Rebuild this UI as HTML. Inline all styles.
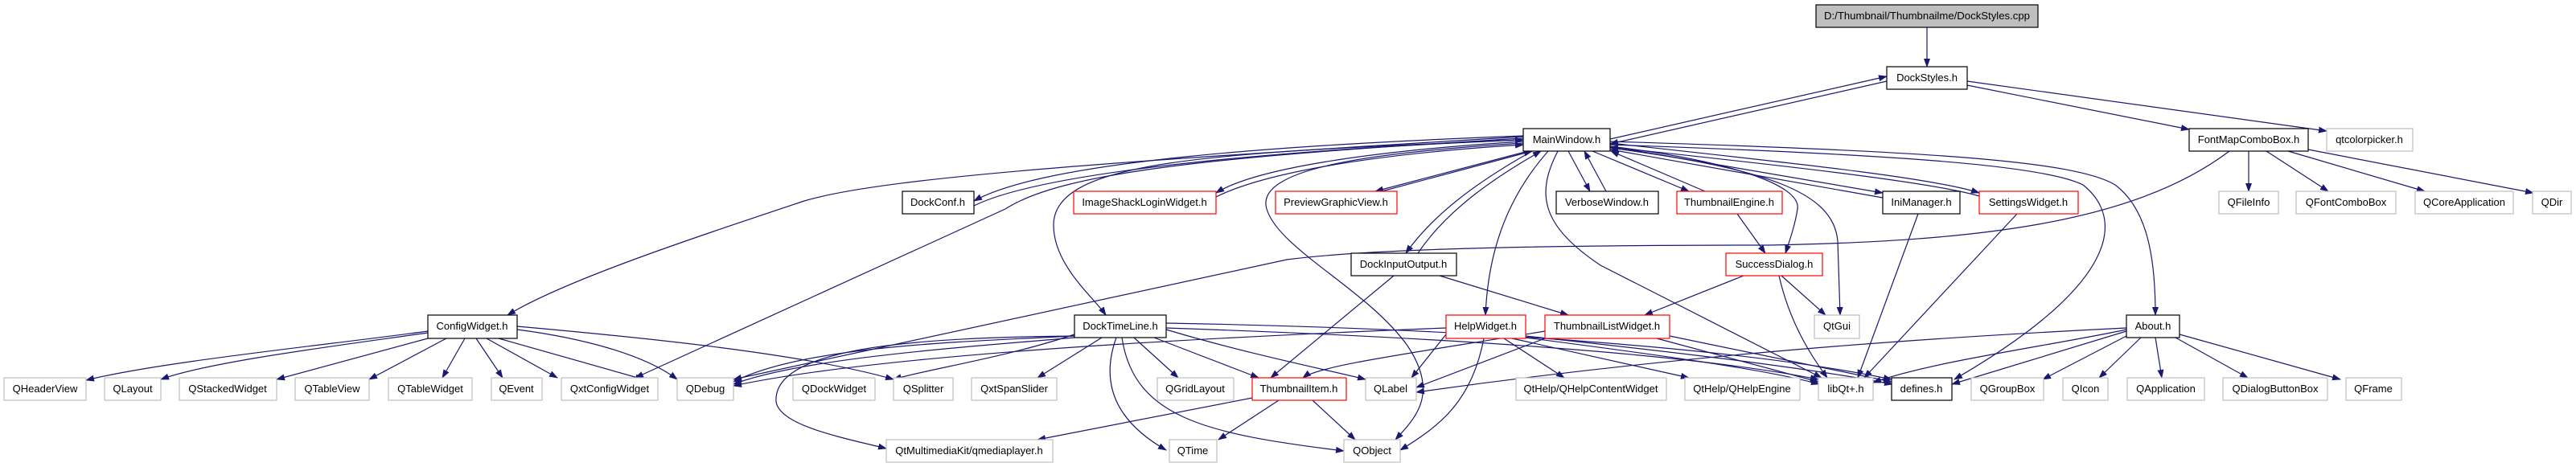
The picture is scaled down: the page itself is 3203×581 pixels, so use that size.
<!DOCTYPE html>
<html><head><meta charset="utf-8"><style>
html,body{margin:0;padding:0;background:#fff;}
svg{display:block;}
text{font-family:"Liberation Sans",sans-serif;font-size:13px;fill:#000;text-anchor:middle;}
.e{fill:none;stroke:#191970;stroke-width:1.2;marker-end:url(#a);}
.b{fill:#fff;stroke:#000;stroke-width:1.2;}
.r{fill:#fff;stroke:#ff0000;stroke-width:1.2;}
.g{fill:#fff;stroke:#bfbfbf;stroke-width:1.2;}
</style></head><body>
<svg width="3203" height="581" viewBox="0 0 3203 581" xmlns="http://www.w3.org/2000/svg">
<defs><marker id="a" markerWidth="11" markerHeight="8" refX="10" refY="4" orient="auto" markerUnits="userSpaceOnUse"><path d="M0,0 L11,4 L0,8 Z" fill="#191970"/></marker></defs>
<path class="e" d="M2396,34 L2396,83"/>
<path class="e" d="M2346,101 L2002,179"/>
<path class="e" d="M2002,173 L2346,95"/>
<path class="e" d="M2446,106 L2722,161"/>
<path class="e" d="M2446,101 L2893,163"/>
<path class="e" d="M1894,169 C1600,180 1300,200 1211,250"/>
<path class="e" d="M1211,256 C1300,212 1600,186 1894,174"/>
<path class="e" d="M1894,176 C1700,188 1560,210 1512,240"/>
<path class="e" d="M1512,245 C1570,216 1700,192 1894,180"/>
<path class="e" d="M1900,188 L1710,238"/>
<path class="e" d="M1718,238 L1905,188"/>
<path class="e" d="M1950,188 L1977,238"/>
<path class="e" d="M1997,238 L1970,188"/>
<path class="e" d="M1980,188 L2100,238"/>
<path class="e" d="M2120,238 L2003,188"/>
<path class="e" d="M2002,182 L2341,240"/>
<path class="e" d="M2341,246 L2002,186"/>
<path class="e" d="M2002,178 C2200,200 2400,220 2461,240"/>
<path class="e" d="M2461,244 C2400,226 2200,204 2002,183"/>
<path class="e" d="M2002,176 C2400,188 2580,200 2630,230 C2670,260 2680,320 2680,392"/>
<path class="e" d="M2002,180 C2350,192 2540,205 2590,230 C2640,270 2640,350 2430,472"/>
<path class="e" d="M1894,170 C1400,200 1100,220 1000,250 C850,300 700,350 631,392"/>
<path class="e" d="M1894,172 C1500,195 1320,215 1250,260 L790,470"/>
<path class="e" d="M1894,174 C1500,190 1310,200 1310,280 C1310,330 1360,370 1375,392"/>
<path class="e" d="M1905,188 C1830,230 1780,270 1748,315"/>
<path class="e" d="M1763,315 C1800,260 1860,220 1916,188"/>
<path class="e" d="M1925,188 C1870,250 1850,320 1847,392"/>
<path class="e" d="M1937,188 C1910,240 1915,280 1990,330 L2265,470"/>
<path class="e" d="M2002,182 C2150,200 2240,230 2235,260 C2232,280 2225,300 2220,315"/>
<path class="e" d="M2002,184 C2200,210 2280,240 2285,300 L2288,392"/>
<path class="e" d="M1894,178 C1700,190 1560,210 1575,260 C1590,310 1700,360 1750,430 C1790,490 1760,520 1735,547"/>
<path class="e" d="M2796,188 L2796,238"/>
<path class="e" d="M2818,188 L2895,238"/>
<path class="e" d="M2845,188 L3015,238"/>
<path class="e" d="M2870,186 L3150,240"/>
<path class="e" d="M2772,188 C2650,280 2450,300 2200,305 C1900,305 1700,310 1600,323 L912,472"/>
<path class="e" d="M532,412 C400,430 200,450 107,473"/>
<path class="e" d="M532,414 C420,430 260,450 200,472"/>
<path class="e" d="M532,421 L344,472"/>
<path class="e" d="M555,421 L459,472"/>
<path class="e" d="M578,421 L550,470"/>
<path class="e" d="M592,421 L625,470"/>
<path class="e" d="M605,421 L693,470"/>
<path class="e" d="M620,421 L800,472"/>
<path class="e" d="M643,410 C720,420 800,440 842,472"/>
<path class="e" d="M643,406 C800,420 1000,440 1111,472"/>
<path class="e" d="M1336,418 C1200,425 1000,430 912,475"/>
<path class="e" d="M1336,420 C1200,432 1000,445 912,478"/>
<path class="e" d="M1336,416 C1250,445 1150,460 1111,472"/>
<path class="e" d="M1370,420 L1290,470"/>
<path class="e" d="M1410,420 L1465,470"/>
<path class="e" d="M1435,420 L1565,470"/>
<path class="e" d="M1388,420 C1370,470 1380,520 1450,560"/>
<path class="e" d="M1395,420 C1410,520 1500,540 1671,561"/>
<path class="e" d="M1336,418 C1150,420 960,430 965,500 C970,530 1050,545 1102,558"/>
<path class="e" d="M1450,410 C1550,440 1650,460 1698,472"/>
<path class="e" d="M1450,408 C1800,420 2100,440 2261,472"/>
<path class="e" d="M1450,402 C1900,410 2200,440 2352,472"/>
<path class="e" d="M1733,343 L1580,470"/>
<path class="e" d="M1790,343 L1950,392"/>
<path class="e" d="M2168,343 L2045,392"/>
<path class="e" d="M2215,343 L2270,392"/>
<path class="e" d="M2212,343 C2225,400 2250,440 2272,470"/>
<path class="e" d="M2160,266 L2195,315"/>
<path class="e" d="M2385,266 L2310,470"/>
<path class="e" d="M2508,266 L2318,470"/>
<path class="e" d="M1798,408 C1500,420 1100,440 912,480"/>
<path class="e" d="M1798,416 L1755,470"/>
<path class="e" d="M1870,421 L1945,470"/>
<path class="e" d="M1880,421 L2100,470"/>
<path class="e" d="M1897,420 C2050,440 2200,460 2262,478"/>
<path class="e" d="M1897,418 C2100,440 2250,458 2353,478"/>
<path class="e" d="M1845,421 C1830,500 1790,530 1741,560"/>
<path class="e" d="M2060,421 L2261,475"/>
<path class="e" d="M2076,418 L2352,475"/>
<path class="e" d="M1921,421 L1761,482"/>
<path class="e" d="M1921,412 C1750,440 1640,455 1620,470"/>
<path class="e" d="M1557,495 L1290,547"/>
<path class="e" d="M1590,498 L1515,547"/>
<path class="e" d="M1632,498 L1685,547"/>
<path class="e" d="M2644,412 L2427,478"/>
<path class="e" d="M2644,418 L2540,472"/>
<path class="e" d="M2662,420 L2610,470"/>
<path class="e" d="M2680,420 L2688,470"/>
<path class="e" d="M2705,420 L2795,470"/>
<path class="e" d="M2710,416 L2910,472"/>
<path class="e" d="M2644,408 C2400,420 2100,440 1761,488"/>
<path class="e" d="M2644,410 C2550,430 2400,450 2329,476"/>
<rect x="2258" y="6" width="276" height="28" fill="#bfbfbf" stroke="#000" stroke-width="1.2"/><text x="2396" y="24" textLength="256" lengthAdjust="spacingAndGlyphs">D:/Thumbnail/Thumbnailme/DockStyles.cpp</text>
<rect class="b" x="2346" y="83" width="100" height="28"/><text x="2396" y="101">DockStyles.h</text>
<rect class="b" x="1894" y="160" width="108" height="28"/><text x="1948" y="178">MainWindow.h</text>
<rect class="b" x="2722" y="160" width="148" height="28"/><text x="2796" y="178">FontMapComboBox.h</text>
<rect class="g" x="2893" y="160" width="107" height="28"/><text x="2946" y="178">qtcolorpicker.h</text>
<rect class="b" x="1122" y="238" width="89" height="28"/><text x="1166" y="256">DockConf.h</text>
<rect class="r" x="1335" y="238" width="177" height="28"/><text x="1423" y="256">ImageShackLoginWidget.h</text>
<rect class="r" x="1586" y="238" width="151" height="28"/><text x="1661" y="256">PreviewGraphicView.h</text>
<rect class="b" x="1935" y="238" width="127" height="28"/><text x="1998" y="256">VerboseWindow.h</text>
<rect class="r" x="2085" y="238" width="131" height="28"/><text x="2150" y="256">ThumbnailEngine.h</text>
<rect class="b" x="2341" y="238" width="96" height="28"/><text x="2389" y="256">IniManager.h</text>
<rect class="r" x="2461" y="238" width="123" height="28"/><text x="2522" y="256">SettingsWidget.h</text>
<rect class="g" x="2759" y="238" width="74" height="28"/><text x="2796" y="256">QFileInfo</text>
<rect class="g" x="2855" y="238" width="124" height="28"/><text x="2917" y="256">QFontComboBox</text>
<rect class="g" x="3003" y="238" width="122" height="28"/><text x="3064" y="256">QCoreApplication</text>
<rect class="g" x="3149" y="238" width="48" height="28"/><text x="3173" y="256">QDir</text>
<rect class="b" x="1680" y="315" width="131" height="28"/><text x="1745" y="333">DockInputOutput.h</text>
<rect class="r" x="2146" y="315" width="120" height="28"/><text x="2206" y="333">SuccessDialog.h</text>
<rect class="b" x="532" y="392" width="111" height="29"/><text x="587" y="410">ConfigWidget.h</text>
<rect class="b" x="1336" y="392" width="114" height="28"/><text x="1393" y="410">DockTimeLine.h</text>
<rect class="r" x="1798" y="392" width="99" height="29"/><text x="1847" y="410">HelpWidget.h</text>
<rect class="r" x="1921" y="392" width="155" height="29"/><text x="1998" y="410">ThumbnailListWidget.h</text>
<rect class="g" x="2256" y="392" width="56" height="29"/><text x="2284" y="410">QtGui</text>
<rect class="b" x="2644" y="392" width="66" height="28"/><text x="2677" y="410">About.h</text>
<rect class="g" x="5" y="470" width="102" height="28"/><text x="56" y="488">QHeaderView</text>
<rect class="g" x="130" y="470" width="70" height="28"/><text x="165" y="488">QLayout</text>
<rect class="g" x="223" y="470" width="121" height="28"/><text x="283" y="488">QStackedWidget</text>
<rect class="g" x="367" y="470" width="92" height="28"/><text x="413" y="488">QTableView</text>
<rect class="g" x="483" y="470" width="104" height="28"/><text x="535" y="488">QTableWidget</text>
<rect class="g" x="611" y="470" width="63" height="28"/><text x="642" y="488">QEvent</text>
<rect class="g" x="698" y="470" width="120" height="28"/><text x="758" y="488">QxtConfigWidget</text>
<rect class="g" x="842" y="470" width="70" height="28"/><text x="877" y="488">QDebug</text>
<rect class="g" x="986" y="470" width="102" height="28"/><text x="1037" y="488">QDockWidget</text>
<rect class="g" x="1111" y="470" width="74" height="28"/><text x="1148" y="488">QSplitter</text>
<rect class="g" x="1208" y="470" width="106" height="28"/><text x="1261" y="488">QxtSpanSlider</text>
<rect class="g" x="1439" y="470" width="95" height="28"/><text x="1486" y="488">QGridLayout</text>
<rect class="r" x="1557" y="470" width="117" height="28"/><text x="1615" y="488">ThumbnailItem.h</text>
<rect class="g" x="1698" y="470" width="63" height="28"/><text x="1729" y="488">QLabel</text>
<rect class="g" x="1885" y="470" width="187" height="28"/><text x="1978" y="488">QtHelp/QHelpContentWidget</text>
<rect class="g" x="2095" y="470" width="143" height="28"/><text x="2166" y="488">QtHelp/QHelpEngine</text>
<rect class="g" x="2261" y="470" width="68" height="28"/><text x="2295" y="488">libQt+.h</text>
<rect class="b" x="2352" y="470" width="75" height="28"/><text x="2389" y="488">defines.h</text>
<rect class="g" x="2451" y="470" width="90" height="28"/><text x="2496" y="488">QGroupBox</text>
<rect class="g" x="2565" y="470" width="56" height="28"/><text x="2593" y="488">QIcon</text>
<rect class="g" x="2645" y="470" width="96" height="28"/><text x="2693" y="488">QApplication</text>
<rect class="g" x="2764" y="470" width="130" height="28"/><text x="2829" y="488">QDialogButtonBox</text>
<rect class="g" x="2917" y="470" width="69" height="28"/><text x="2951" y="488">QFrame</text>
<rect class="g" x="1102" y="547" width="207" height="28"/><text x="1205" y="565">QtMultimediaKit/qmediaplayer.h</text>
<rect class="g" x="1454" y="547" width="59" height="28"/><text x="1483" y="565">QTime</text>
<rect class="g" x="1671" y="547" width="70" height="28"/><text x="1706" y="565">QObject</text>
</svg>
</body></html>
